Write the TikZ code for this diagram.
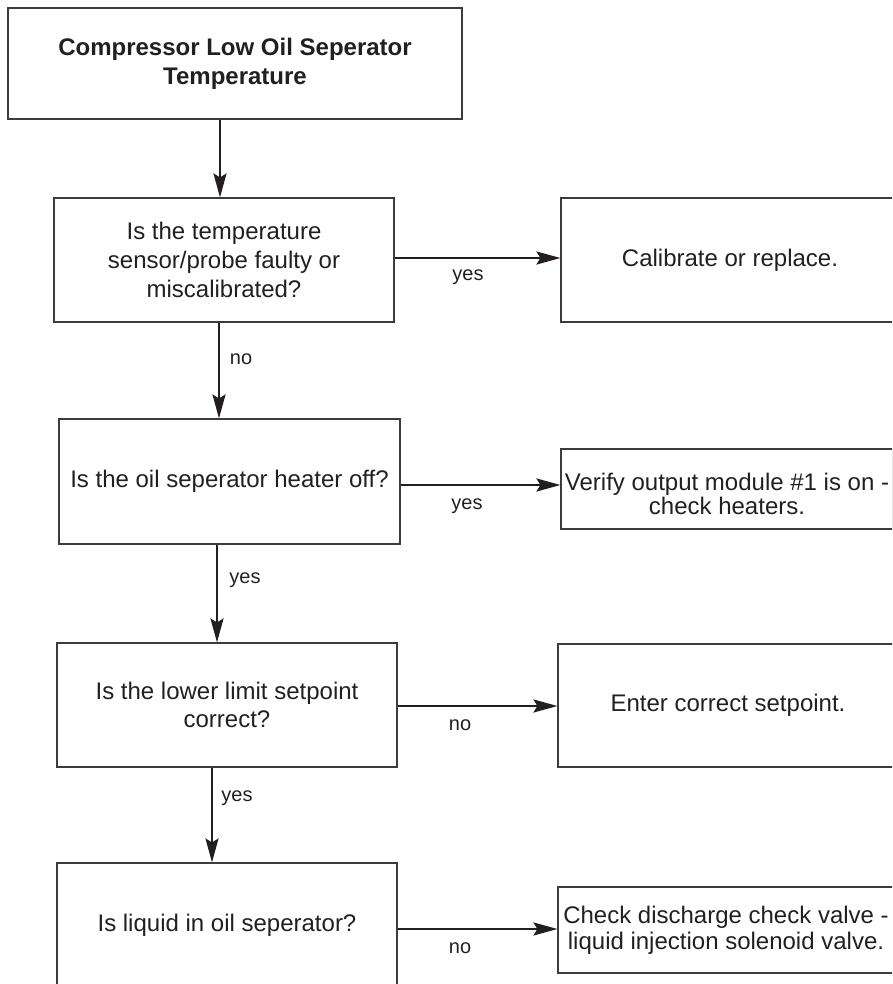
\documentclass[tikz,border=0pt]{standalone}
\usepackage{fontspec}
\setmainfont{Liberation Sans}
\usetikzlibrary{arrows.meta}
\definecolor{ink}{HTML}{231F20}
\definecolor{frame}{HTML}{3C3C3C}

\begin{document}
\begin{tikzpicture}[x=1pt,y=-1pt,
  box/.style={draw=frame, line width=1.1pt, rectangle, inner sep=0pt,
    align=center, text=ink, font=\fontsize{24}{28.8}\selectfont},
  caption/.style={inner sep=0pt, align=center, text=ink},
  link/.style={draw=ink, line width=2.4pt,
    -{Stealth[length=24pt,width=13pt,inset=4pt]}},
  lbl/.style={text=ink, font=\fontsize{20}{24}\selectfont, inner sep=0pt}]
\useasboundingbox (0,0) rectangle (892,984);
\clip (0,0) rectangle (892,984);

% decision column
\node[box, font=\fontsize{24}{29}\selectfont\bfseries,
      minimum width=454pt, minimum height=111pt] (title) at (235,63.5)
  {Compressor Low Oil Seperator\\Temperature};
\node[box, minimum width=340pt, minimum height=124pt] (q1) at (224,260)
  {Is the temperature\\sensor/probe faulty or\\miscalibrated?};
\node[box, minimum width=341pt, minimum height=125pt] (q2) at (229.5,481.5)
  {Is the oil seperator heater off?};
\node[box, minimum width=340pt, minimum height=124pt] (q3) at (227,705)
  {Is the lower limit setpoint\\correct?};
\node[box, minimum width=340pt, minimum height=124pt] (q4) at (227,925)
  {Is liquid in oil seperator?};

% action column
\node[box, minimum width=338pt, minimum height=124pt] (a1) at (730,260)
  {Calibrate or replace.};
\node[box, minimum width=332pt, minimum height=80pt] (a2) at (727,489) {};
\node[caption, font=\fontsize{24}{22}\selectfont] (a2text) at (727,494)
  {Verify output module \#1 is on -\\check heaters.};
\node[box, minimum width=340pt, minimum height=123pt] (a3) at (728,705.5)
  {Enter correct setpoint.};
\node[box, font=\fontsize{24}{26}\selectfont,
      minimum width=336pt, minimum height=86pt] (a4) at (726,930)
  {Check discharge check valve -\\liquid injection solenoid valve.};

% connector positions
\coordinate (x0) at (220,0);
\coordinate (x1) at (219,0);
\coordinate (x2) at (217,0);
\coordinate (x3) at (212,0);
\coordinate (y1) at (0,258);
\coordinate (y2) at (0,485);
\coordinate (y3) at (0,706);
\coordinate (y4) at (0,929);

% vertical flow
\draw[link, line width=2.1pt] (title.south -| x0) -- (q1.north -| x0);
\draw[link, line width=2.1pt] (q1.south -| x1) -- (q2.north -| x1);
\draw[link, line width=2.1pt] (q2.south -| x2) -- (q3.north -| x2);
\draw[link, line width=2.1pt] (q3.south -| x3) -- (q4.north -| x3);

% branches to the right
\draw[link] (q1.east |- y1) -- (a1.west |- y1);
\draw[link] (q2.east |- y2) -- (a2.west |- y2);
\draw[link] (q3.east |- y3) -- (a3.west |- y3);
\draw[link] (q4.east |- y4) -- (a4.west |- y4);

% answer labels
\node[lbl] (l1) at (468,277) {yes};
\node[lbl] (l2) at (241,359) {no};
\node[lbl] (l3) at (467,506) {yes};
\node[lbl] (l4) at (245,580) {yes};
\node[lbl] (l5) at (460,725) {no};
\node[lbl] (l6) at (237,798) {yes};
\node[lbl] (l7) at (460,948) {no};
\end{tikzpicture}
\end{document}
